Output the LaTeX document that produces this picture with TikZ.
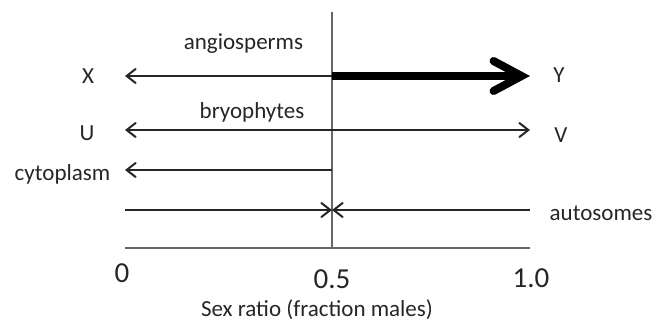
\documentclass[tikz,border=0pt]{standalone}
\usepackage{fontspec}
\setmainfont{Carlito}
\usetikzlibrary{arrows.meta}
\begin{document}
\begin{tikzpicture}[x=1pt,y=-1pt,
  lbl/.style={font=\fontsize{23}{25}\selectfont, text=black!85, inner sep=0pt, anchor=base},
  num/.style={font=\fontsize{29}{31}\selectfont, text=black!85, inner sep=0pt, anchor=base},
  arr/.style={line width=2pt, draw=black!85, -{Straight Barb[length=9pt,width=14pt,line cap=round]}},
  axisline/.style={line width=1.8pt, draw=black!60},
  thick arr/.style={line width=8pt, draw=black, line cap=butt, -{Straight Barb[length=28pt,width=30pt,line cap=round]}}]
\useasboundingbox (0,0) rectangle (653,322);
% coordinates
\coordinate (top) at (332,12);
\coordinate (bot) at (332,248);
\coordinate (axL) at (125,248);
\coordinate (axR) at (530,248);
\coordinate (xy0) at (332,76);
\coordinate (xyL) at (125,76);
\coordinate (xyR) at (530,76);
\coordinate (uv0) at (332,130);
\coordinate (uvL) at (125,130);
\coordinate (uvR) at (530,130);
\coordinate (cy0) at (332,170);
\coordinate (cyL) at (125,170);
\coordinate (auL) at (125,210);
\coordinate (auR) at (530,210);
\coordinate (au0) at (332,210);
% axes
\draw[axisline] (top) -- (bot);
\draw[axisline] (axL) -- (axR);
% arrows
\draw[arr] (xy0) -- (xyL);
\draw[thick arr] (xy0) -- (xyR);
\draw[arr] (uv0) -- (uvL);
\draw[arr] (uv0) -- (uvR);
\draw[arr] (cy0) -- (cyL);
\draw[arr] (auL) -- (au0);
\draw[arr] (auR) -- (au0);
% labels
\node[lbl] (ang) at (243.5,49) {angiosperms};
\node[lbl] (bry) at (252,118) {bryophytes};
\node[lbl] (X) at (88,83) {X};
\node[lbl] (Y) at (559,82) {Y};
\node[lbl] (U) at (87,140) {U};
\node[lbl] (V) at (561,142) {V};
\node[lbl] (cyt) at (62.5,180) {cytoplasm};
\node[lbl] (aut) at (601,220) {autosomes};
\node[num] (n0) at (122,282) {0};
\node[num] (n05) at (332,288) {0.5};
\node[num] (n10) at (531,287) {1.0};
\node[lbl] (title) at (317,316) {Sex ratio (fraction males)};
\end{tikzpicture}
\end{document}
